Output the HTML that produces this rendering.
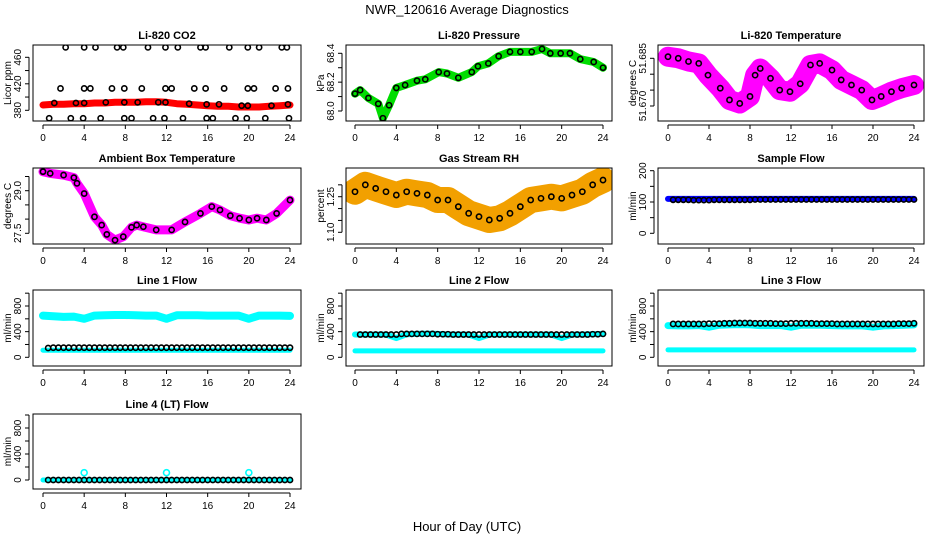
<!DOCTYPE html>
<html><head><meta charset="utf-8"><style>
html,body{margin:0;padding:0;background:#fff;}
svg{display:block;font-family:"Liberation Sans",sans-serif;}
</style></head><body>
<svg id="chart" width="936" height="540" viewBox="0 0 936 540" xmlns="http://www.w3.org/2000/svg">
<rect width="936" height="540" fill="#fff"/>
<text x="467" y="14" text-anchor="middle" font-size="13">NWR_120616  Average Diagnostics</text>
<text x="467" y="531" text-anchor="middle" font-size="13">Hour of Day (UTC)</text>
</svg>
<script>
const H25 = [0,1,2,3,4,5,6,7,8,9,10,11,12,13,14,15,16,17,18,19,20,21,22,23,24];
const HALF = [0.5,1,1.5,2,2.5,3,3.5,4,4.5,5,5.5,6,6.5,7,7.5,8,8.5,9,9.5,10,10.5,11,11.5,12,12.5,13,13.5,14,14.5,15,15.5,16,16.5,17,17.5,18,18.5,19,19.5,20,20.5,21,21.5,22,22.5,23,23.5,24];
const X_TICKS = [0,4,8,12,16,20,24];

// CO2
const co2Red = [388,389,389,390,390,391,391,392,392,392,393,393,392,390,389,388,387,386,386,385,385,385,386,387,388];
const co2NormHours = [1.1,3.2,4.0,6.1,7.9,9.2,11.2,11.9,14.2,15.9,17.1,19.3,19.9,22.2,23.8];
const co2NormVals = [391,391,391,392,392,392,392,392,390,389,389,387,387,387,389];
const co2HighHours = [2.2,4.0,5.1,7.2,7.8,10.2,11.9,13.1,15.3,15.8,18.1,19.9,21.0,23.2,23.7];
const co2HighVals = [475,475,475,475,475,475,475,475,475,475,475,475,475,475,475];
const co2MidHours = [1.7,4.0,4.6,6.7,7.9,9.6,11.9,12.5,14.7,15.8,17.6,19.9,20.5,22.6,23.8];
const co2MidVals = [413,413,413,413,413,413,413,413,413,413,413,413,413,413,413];
const co2LowHours = [0.6,2.7,3.9,5.6,7.9,8.6,10.7,11.8,13.6,15.9,16.5,18.7,19.8,21.6,23.9];
const co2LowVals = [368,368,368,368,368,368,368,368,368,368,368,368,368,368,368];
// Pressure
const presHours = [0,0.5,1.3,2.25,2.7,3.3,4,4.85,6,6.8,8.1,8.9,10,11.3,11.9,12.9,13.9,15,16,17.1,18.1,18.9,19.9,20.8,21.8,23.1,24];
const presVals = [68.12,68.145,68.09,68.05,67.95,68.04,68.16,68.18,68.21,68.22,68.27,68.26,68.23,68.27,68.31,68.33,68.38,68.41,68.41,68.41,68.43,68.40,68.40,68.40,68.36,68.34,68.30];
// Li-820 temp
const ltHours = [0,1,2,3,3.9,5.1,6,7,8,8.5,9,10,10.9,11.9,12.9,13.9,14.8,16,16.9,17.9,18.9,19.9,20.8,21.8,22.8,24];
const ltVals = [51.6855,51.685,51.684,51.6834,51.6797,51.6756,51.6719,51.6708,51.673,51.6797,51.6818,51.6787,51.675,51.6745,51.677,51.6829,51.6834,51.6813,51.6782,51.6766,51.675,51.6719,51.673,51.6745,51.6756,51.6766];
// Ambient
const ambHours = [0,0.7,2,3,3.3,4,5,5.7,6.2,7,7.8,8.6,9.1,9.75,11,12.5,13.8,15.3,16.4,17.2,18.2,19.1,20,20.8,21.7,22.7,24];
const ambVals = [29.67,29.61,29.55,29.46,29.26,28.9,28.08,27.79,27.46,27.26,27.38,27.71,27.79,27.73,27.62,27.62,27.9,28.2,28.44,28.32,28.12,28.03,27.97,28.03,27.97,28.2,28.67];
// RH
const rhVals = [1.271,1.30,1.285,1.271,1.257,1.271,1.264,1.257,1.236,1.236,1.208,1.18,1.166,1.152,1.159,1.18,1.208,1.236,1.243,1.25,1.243,1.257,1.271,1.30,1.32];
// Sample flow
const sampleBlue = [110,110,110,110,110,110,110,110,110,110,110,110,110,110,110,110,110,110,110,110,110,110,110,110,110];
const sampleBlack = [107,107,107,107,106,106,106,106,107,107,107,107,107,107,107,107,108,108,108,108,108,108,108,108,108,108,108,108,108,108,108,108,108,108,108,108,108,108,108,108,108,108,108,108,108,108,108,108];
// Line 1
const l1CyanHigh = [650,640,630,635,600,650,655,660,660,655,650,650,600,655,655,655,650,650,650,650,600,650,650,650,645];
const l1CyanLow = [110,110,110,110,110,110,110,110,110,110,110,110,110,110,110,110,110,110,110,110,110,110,110,110,110];
const l1Black = [145,150,150,150,150,150,150,150,150,150,150,150,150,150,150,150,150,150,150,150,150,150,150,150,150,150,150,150,150,150,150,150,150,150,150,150,150,150,150,150,150,150,150,150,150,150,150,150];
// Line 2
const l2CyanHigh = [355,355,355,355,300,360,365,370,365,355,355,355,300,355,355,355,355,355,355,355,300,355,355,360,365];
const l2CyanLow = [100,100,100,100,100,100,100,100,100,100,100,100,100,100,100,100,100,100,100,100,100,100,100,100,100];
const l2Black = [355,355,355,355,355,355,355,355,365,365,365,365,365,365,365,360,360,360,355,355,355,355,355,355,355,355,355,355,355,355,355,355,355,355,355,355,355,355,355,355,355,355,355,355,355,360,360,365];
// Line 3
const l3CyanHigh = [495,490,490,495,470,500,505,510,505,495,495,495,470,500,500,500,495,490,490,490,470,490,495,500,505];
const l3CyanLow = [115,115,115,115,115,115,115,115,115,115,115,115,115,115,115,115,115,115,115,115,115,115,115,115,115];
const l3Black = [520,520,520,520,520,520,520,525,525,525,530,530,535,535,535,535,530,530,530,530,525,525,525,530,530,530,530,530,525,525,525,525,520,520,520,520,520,520,520,520,520,520,520,520,525,525,525,530];
// Line 4
const l4Cyan = [0,0,0,0,0,0,0,0,0,0,0,0,0,0,0,0,0,0,0,0,0,0,0,0,0];
const l4OutHours = [4,12,20];
const l4OutVals = [112,112,112];
const l4Black = [0,0,0,0,0,0,0,0,0,0,0,0,0,0,0,0,0,0,0,0,0,0,0,0,0,0,0,0,0,0,0,0,0,0,0,0,0,0,0,0,0,0,0,0,0,0,0,0];

const NS = "http://www.w3.org/2000/svg";
const svg = document.getElementById('chart');
function mk(tag, attrs, parent){ const e=document.createElementNS(NS,tag); for(const k in attrs) e.setAttribute(k,attrs[k]); (parent||svg).appendChild(e); return e; }

const COLS = [{bx0:33,bx1:301,h0:43,h24:290},{bx0:346,bx1:612,h0:355,h24:603},{bx0:658,bx1:924,h0:668,h24:914}];
const ROWS = [{by0:45,by1:121},{by0:168,by1:244},{by0:290,by1:366},{by0:414,by1:489}];
let clipId=0;

function panel(c, r, title, slug, ylab, v0, p0, v1, p1, ticks, labels, decimals){
  const C=COLS[c], R=ROWS[r];
  const g = mk('g',{});
  
  
  const X = h => C.h0 + h*(C.h24-C.h0)/24;
  const Y = v => p0 + (v-v0)*(p1-p0)/(v1-v0);
  const t = mk('text',{x:(C.bx0+C.bx1)/2, y:R.by0-6, 'text-anchor':'middle','font-size':'11','font-weight':'bold'},g);
  t.textContent = title;
  
  
  // x axis
  const xa = mk('g',{},g);
  
  
  const ay = R.by1+4;
  mk('line',{x1:X(0),x2:X(24),y1:ay,y2:ay,stroke:'#000','stroke-width':1},xa);
  X_TICKS.forEach(h=>{
    mk('line',{x1:X(h),x2:X(h),y1:ay,y2:ay+4,stroke:'#000','stroke-width':1},xa);
    const tl = mk('text',{x:X(h),y:ay+16,'text-anchor':'middle','font-size':'10'},xa);
    tl.textContent = h;
  });
  // y axis
  const ya = mk('g',{},g);
  
  
  const ax = C.bx0-4;
  mk('line',{x1:ax,x2:ax,y1:Y(ticks[0]),y2:Y(ticks[ticks.length-1]),stroke:'#000','stroke-width':1},ya);
  ticks.forEach(v=>mk('line',{x1:ax-4,x2:ax,y1:Y(v),y2:Y(v),stroke:'#000','stroke-width':1},ya));
  labels.forEach(v=>{
    const tl = mk('text',{x:0,y:0,'text-anchor':'middle','font-size':'10',transform:`translate(${ax-8},${Y(v)}) rotate(-90)`},ya);
    tl.textContent = v.toFixed(decimals);
  });
  const yl = mk('text',{x:0,y:0,'text-anchor':'middle','font-size':'10',transform:`translate(${C.bx0-22},${(R.by0+R.by1)/2}) rotate(-90)`},g);
  yl.textContent = ylab;
  
  
  // clip + plot area
  const id = 'clip'+(clipId++);
  const cp = mk('clipPath',{id:id},g);
  mk('rect',{x:C.bx0,y:R.by0,width:C.bx1-C.bx0,height:R.by1-R.by0},cp);
  const plot = mk('g',{'clip-path':`url(#${id})`},g);
  
  
  const box = mk('rect',{x:C.bx0,y:R.by0,width:C.bx1-C.bx0,height:R.by1-R.by0,fill:'none',stroke:'#000','stroke-width':1},g);
  
  
  return {X,Y,plot};
}
function band(P, hours, vals, color, w, name){
  const pts = hours.map((h,i)=>P.X(h).toFixed(1)+','+P.Y(vals[i]).toFixed(1)).join(' ');
  const pl = mk('polyline',{points:pts,fill:'none',stroke:color,'stroke-width':w,'stroke-linejoin':'round','stroke-linecap':'round'},P.plot);
  
  
}
function circles(P, hours, vals, color, name, rr){
  const g = mk('g',{},P.plot);
  
  
  hours.forEach((h,i)=>{
    const c = mk('circle',{cx:P.X(h),cy:P.Y(vals[i]),r:rr||2.6,fill:'none',stroke:color,'stroke-width':1.6},g);
    
    
  });
}

// Row 1
let P = panel(0,0,'Li-820 CO2','co2','Licor ppm',380,110.3,460,57.3,[380,400,420,440,460],[380,420,460],0);
band(P,H25,co2Red,'#ff0000',7,'co2-red-series');
circles(P,co2NormHours,co2NormVals,'#000','co2-black-series');
circles(P,co2HighHours,co2HighVals,'#000','co2-high-outliers');
circles(P,co2MidHours,co2MidVals,'#000','co2-mid-outliers');
circles(P,co2LowHours,co2LowVals,'#000','co2-low-outliers');

P = panel(1,0,'Li-820 Pressure','pressure','kPa',68.0,111,68.4,53.3,[68.0,68.1,68.2,68.3,68.4],[68.0,68.2,68.4],1);
band(P,presHours,presVals,'#00dd00',8,'pressure-green-series');
circles(P,presHours,presVals,'#000','pressure-black-series');

P = panel(2,0,'Li-820 Temperature','licor-temp','degrees C',51.670,106,51.685,58.3,[51.670,51.675,51.680,51.685],[51.670,51.685],3);
band(P,ltHours,ltVals,'#ff00ff',20,'licor-temp-magenta-series');
circles(P,ltHours,ltVals,'#000','licor-temp-black-series');

// Row 2
P = panel(0,1,'Ambient Box Temperature','ambient-temp','degrees C',27.5,233.3,29.0,190.7,[27.5,28.0,28.5,29.0,29.5],[27.5,29.0],1);
band(P,ambHours,ambVals,'#ff00ff',9,'ambient-magenta-series');
circles(P,ambHours,ambVals,'#000','ambient-black-series');

P = panel(1,1,'Gas Stream RH','gas-rh','percent',1.10,232.3,1.25,196.7,[1.10,1.15,1.20,1.25,1.30],[1.10,1.25],2);
band(P,H25,rhVals,'#f2a000',26,'gas-rh-orange-series');
circles(P,H25,rhVals,'#000','gas-rh-black-series');

P = panel(2,1,'Sample Flow','sample-flow','ml/min',0,233.3,200,170.7,[0,50,100,150,200],[0,100,200],0);
band(P,H25,sampleBlue,'#0000ff',6,'sample-flow-blue-series');
circles(P,HALF,sampleBlack,'#000','sample-flow-black-series');

// Row 3
const FT=[0,200,400,600,800,1000], FL=[0,400,800];
P = panel(0,2,'Line 1 Flow','line1-flow','ml/min',0,357.3,800,306,FT,FL,0);
band(P,H25,l1CyanHigh,'#00ffff',8,'line1-cyan-high');
band(P,H25,l1CyanLow,'#00ffff',5,'line1-cyan-low');
circles(P,HALF,l1Black,'#000','line1-black-series');

P = panel(1,2,'Line 2 Flow','line2-flow','ml/min',0,357.3,800,306,FT,FL,0);
band(P,H25,l2CyanHigh,'#00ffff',6,'line2-cyan-high');
band(P,H25,l2CyanLow,'#00ffff',5,'line2-cyan-low');
circles(P,HALF,l2Black,'#000','line2-black-series');

P = panel(2,2,'Line 3 Flow','line3-flow','ml/min',0,357.3,800,306,FT,FL,0);
band(P,H25,l3CyanHigh,'#00ffff',7,'line3-cyan-high');
band(P,H25,l3CyanLow,'#00ffff',5,'line3-cyan-low');
circles(P,HALF,l3Black,'#000','line3-black-series');

// Row 4
P = panel(0,3,'Line 4 (LT) Flow','line4-flow','ml/min',0,480,800,428,FT,FL,0);
band(P,H25,l4Cyan,'#00ffff',5,'line4-cyan-series');
circles(P,l4OutHours,l4OutVals,'#00ffff','line4-cyan-outliers',3);
circles(P,HALF,l4Black,'#000','line4-black-series');
</script>
</body></html>
